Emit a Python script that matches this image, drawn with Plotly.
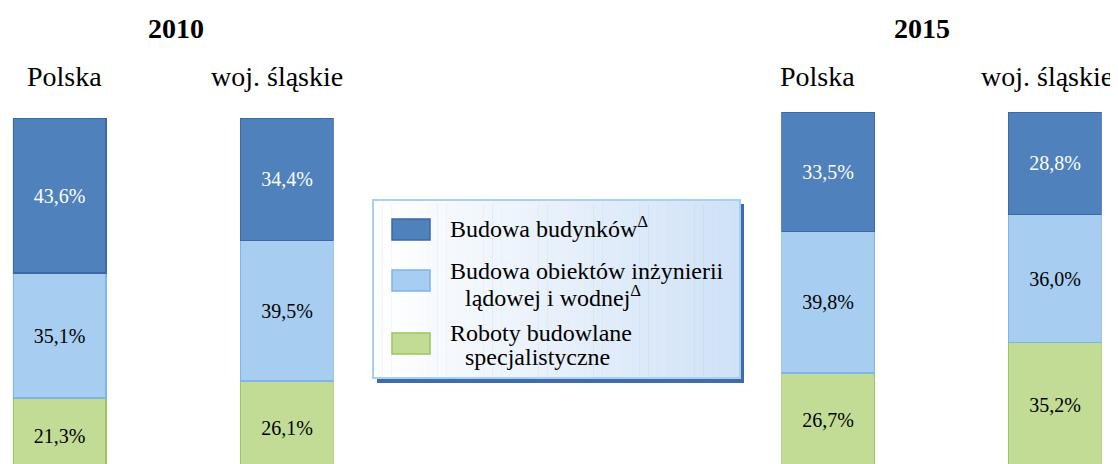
import plotly.graph_objects as go

# data (shares in %)
regions = ["Polska", "woj. śląskie"]
years = ["2010", "2015"]
series_names = [
    "Budowa budynków<sup>Δ</sup>",
    "Budowa obiektów inżynierii lądowej i wodnej<sup>Δ</sup>",
    "Roboty budowlane specjalistyczne",
]
budynki = {"2010": [43.6, 34.4], "2015": [33.5, 28.8]}
inzynieria = {"2010": [35.1, 39.5], "2015": [39.8, 36.0]}
specjalistyczne = {"2010": [21.3, 26.1], "2015": [26.7, 35.2]}

W, H = 1118, 464
OFF = 8  # the page body margin shifts the figure by this much
FONT = "Liberation Serif, Times New Roman, serif"

fills = ["#4f81bd", "#a7cdf0", "#c2dc96"]
edges = ["#3b68a6", "#7db4ea", "#9cc65c"]
text_colors = ["white", "black", "black"]


def px(x):
    return (x - OFF) / W


def py(y):
    return 1 - (y - OFF) / H


fig = go.Figure()

axis_ids = [("x", "y"), ("x2", "y2")]
for (xa, ya), yr in zip(axis_ids, years):
    # bottom segment first so stacking matches the picture
    stack = [
        (specjalistyczne[yr], 2),
        (inzynieria[yr], 1),
        (budynki[yr], 0),
    ]
    for vals, i in stack:
        fig.add_trace(go.Bar(
            x=[0, 1], y=vals,
            width=0.41,
            marker=dict(color=fills[i], line=dict(color=edges[i], width=1.5)),
            texttemplate="%{y:.1f}%",
            textposition="inside",
            insidetextanchor="middle",
            textangle=0,
            textfont=dict(family=FONT, size=20, color=text_colors[i]),
            name=series_names[i],
            showlegend=False,
            xaxis=xa, yaxis=ya,
            hoverinfo="skip",
        ))

# plot area bottom sits at screen y = H + OFF; 100 % spans about 356 px
bottom = H + OFF
hidden = dict(showticklabels=False, showgrid=False, zeroline=False,
              showline=False, ticks="")
fig.update_layout(
    width=W, height=H,
    margin=dict(l=0, r=0, t=0, b=0),
    paper_bgcolor="white", plot_bgcolor="white",
    barmode="stack",
    separators=", ",
    font=dict(family=FONT, color="black"),
    xaxis=dict(domain=[px(12.9), px(333.6)], range=[-0.205, 1.205], **hidden),
    yaxis=dict(domain=[0, py(118)], range=[(474 - bottom) / 3.56, 100], **hidden),
    xaxis2=dict(domain=[px(781.4), px(1101.6)], range=[-0.205, 1.205],
                anchor="y2", **hidden),
    yaxis2=dict(domain=[0, py(112)], range=[(468 - bottom) / 3.56, 100],
                anchor="x2", **hidden),
)

# titles and column labels
head = [
    ("<b>2010</b>", 176, 29, 28),
    ("<b>2015</b>", 922, 29, 28),
    ("Polska", 64, 76, 28),
    ("woj. śląskie", 277, 76, 28),
    ("Polska", 817, 76, 28),
    ("woj. śląskie", 1047, 76, 28),
]
for txt, x, y, size in head:
    fig.add_annotation(text=txt, x=px(x), y=py(y), xref="paper", yref="paper",
                       xanchor="center", yanchor="middle", showarrow=False,
                       font=dict(family=FONT, size=size, color="black"))

# legend box with shadow and gradient
shapes = [dict(type="rect", xref="paper", yref="paper",
               x0=px(377), x1=px(744), y0=py(204), y1=py(383),
               fillcolor="#3f6cab", line=dict(width=0))]
n = 40
left, right = 373, 740
c0, c1 = (255, 255, 255), (208, 226, 247)
for k in range(n):
    t = k / (n - 1)
    col = tuple(round(a + (b - a) * t) for a, b in zip(c0, c1))
    shapes.append(dict(type="rect", xref="paper", yref="paper",
                       x0=px(left + (right - left) * k / n),
                       x1=px(left + (right - left) * (k + 1) / n + 0.5),
                       y0=py(200), y1=py(378),
                       fillcolor="rgb(%d,%d,%d)" % col, line=dict(width=0)))
shapes.append(dict(type="rect", xref="paper", yref="paper",
                   x0=px(left), x1=px(right), y0=py(200), y1=py(378),
                   fillcolor="rgba(0,0,0,0)", line=dict(color="#a9cff3", width=2)))

swatch_y = [(219, 240), (270, 291), (333, 354)]
for i, (t, b) in enumerate(swatch_y):
    shapes.append(dict(type="rect", xref="paper", yref="paper",
                       x0=px(392), x1=px(430), y0=py(t), y1=py(b),
                       fillcolor=fills[i], line=dict(color=edges[i], width=1.5)))
fig.update_layout(shapes=shapes)

legend_lines = [
    ("Budowa budynków<sup>Δ</sup>", 448, 227),
    ("Budowa obiektów inżynierii", 448, 271),
    ("lądowej i wodnej<sup>Δ</sup>", 463, 296),
    ("Roboty budowlane", 448, 333),
    ("specjalistyczne", 463, 357),
]
for txt, x, y in legend_lines:
    fig.add_annotation(text=txt, x=px(x), y=py(y), xref="paper", yref="paper",
                       xanchor="left", yanchor="middle", showarrow=False,
                       font=dict(family=FONT, size=24, color="black"))

fig.write_html("out.html")
